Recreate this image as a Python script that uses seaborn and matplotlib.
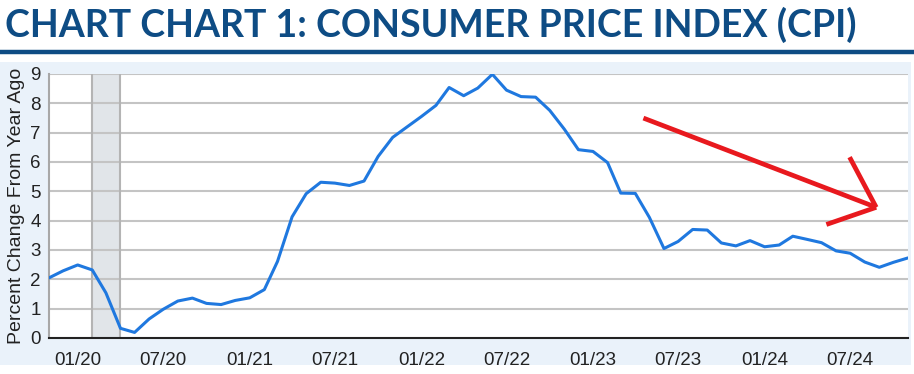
import pandas as pd
import matplotlib
matplotlib.use("Agg")
import matplotlib.pyplot as plt
from matplotlib.patches import Rectangle
from matplotlib.lines import Line2D
import seaborn as sns

# ---------------------- DATA ----------------------
months = pd.date_range("2019-11-01", "2024-11-01", freq="MS")
cpi_yoy = [
    2.05, 2.29,
    2.49, 2.32, 1.54, 0.33, 0.19, 0.65, 0.98, 1.26, 1.36, 1.18, 1.14, 1.28,
    1.37, 1.65, 2.61, 4.13, 4.92, 5.31, 5.28, 5.20, 5.35, 6.19, 6.84, 7.19,
    7.55, 7.93, 8.54, 8.26, 8.52, 8.99, 8.45, 8.23, 8.21, 7.76, 7.12, 6.42,
    6.36, 5.98, 4.94, 4.93, 4.11, 3.05, 3.29, 3.70, 3.68, 3.24, 3.14, 3.32,
    3.11, 3.17, 3.47, 3.36, 3.25, 2.97, 2.89, 2.59, 2.41, 2.58, 2.73,
]
recession_start = pd.Timestamp("2020-02-01")
recession_end = pd.Timestamp("2020-04-01")
tick_dates = pd.date_range("2020-01-01", "2024-07-01", freq="6MS")
tick_labels = [d.strftime("%m/%y") for d in tick_dates]
y_ticks = list(range(0, 10))

df = pd.DataFrame({"Date": months, "CPI": cpi_yoy})

# ---------------------- PLOT ----------------------
sns.set_style("white")
plt.rcParams["font.family"] = ["Liberation Sans", "DejaVu Sans"]

fig = plt.figure(figsize=(9.14, 3.74), dpi=100)
fig.patch.set_facecolor("white")

# light blue panel behind the chart
fig.patches.append(Rectangle((0, 9 / 374), 911 / 914, 303 / 374,
                             transform=fig.transFigure, facecolor="#eaf2fa",
                             edgecolor="none", zorder=-5))

ax = fig.add_axes([49 / 914, 36 / 374, 859 / 914, 264 / 374])
ax.set_zorder(1)
ax.set_facecolor("white")

# recession shading
ax.axvspan(recession_start, recession_end, facecolor="#e1e5e9", edgecolor="none", zorder=1)
for d in (recession_start, recession_end):
    ax.axvline(d, color="#b4b4b4", lw=1.5, zorder=1.5)

for y in y_ticks[1:]:
    ax.axhline(y, color="#c4c4c4", lw=1.5, zorder=1.2)

sns.lineplot(data=df, x="Date", y="CPI", color="#1f78df", lw=2.2, ax=ax, zorder=3)

ax.set_xlim(pd.Timestamp("2019-11-01"), pd.Timestamp("2024-11-01"))
ax.set_ylim(0, 9)
ax.set_yticks(y_ticks)
ax.set_xticks(tick_dates)
ax.set_xticklabels(tick_labels)
ax.set_xlabel("")
ax.set_ylabel("Percent Change From Year Ago", fontsize=14, color="#222222", labelpad=4)
ax.tick_params(axis="x", labelsize=13.5, colors="#222222", length=7, width=1,
               color="#d6e0ea", pad=3)
ax.tick_params(axis="y", labelsize=13.5, colors="#222222", length=0, pad=6)

for side in ("top", "right"):
    ax.spines[side].set_visible(False)
ax.spines["left"].set_color("#a8a8a8")
ax.spines["left"].set_linewidth(1.5)
ax.spines["bottom"].set_color("#222222")
ax.spines["bottom"].set_linewidth(1.5)

# red trend arrow (annotation)
red = "#e8191e"
ax.add_line(Line2D([0.692, 0.963], [0.833, 0.495], transform=ax.transAxes,
                   color=red, lw=3.4, solid_capstyle="butt", zorder=5))
ax.add_line(Line2D([0.932, 0.963], [0.685, 0.495], transform=ax.transAxes,
                   color=red, lw=3.4, solid_capstyle="butt", zorder=5))
ax.add_line(Line2D([0.905, 0.963], [0.430, 0.495], transform=ax.transAxes,
                   color=red, lw=3.4, solid_capstyle="butt", zorder=5))

# title and underline
fig.text(5 / 914, 1 - 25 / 374, "CHART CHART 1: CONSUMER PRICE INDEX (CPI)",
         family=["Lato", "DejaVu Sans"], weight="bold", fontsize=27,
         color="#0e4c84", va="center", ha="left")
fig.add_artist(Line2D([0, 1], [1 - 52 / 374, 1 - 52 / 374], transform=fig.transFigure,
                      color="#0e4c84", lw=3.2))

plt.savefig("out.png", dpi=100)
